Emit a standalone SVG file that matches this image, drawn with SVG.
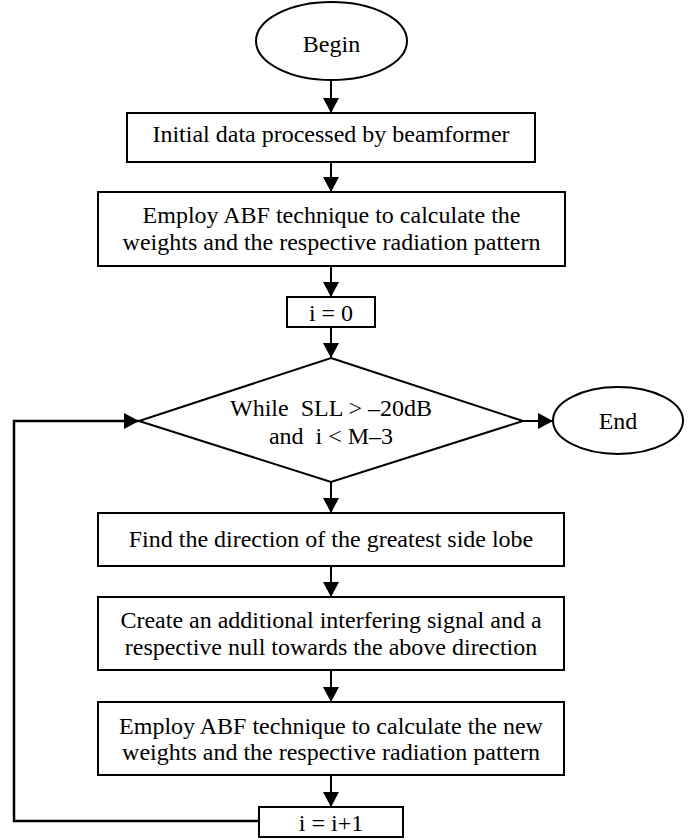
<svg xmlns="http://www.w3.org/2000/svg" width="699" height="840" viewBox="0 0 699 840">
<style>
.s{fill:#fff;stroke:#000;stroke-width:2}
.t{font-family:"Liberation Serif","Times New Roman",serif;font-size:24px;fill:#000;text-anchor:middle}
.c{fill:none;stroke:#000;stroke-width:2}
</style>
<defs>
<marker id="ah" markerUnits="userSpaceOnUse" markerWidth="15" markerHeight="16" refX="15" refY="8" orient="auto">
<path d="M0,0 L15,8 L0,16 z" fill="#000"/>
</marker>
</defs>
<rect width="699" height="840" fill="#fff"/>
<g id="connectors">
<line class="c" x1="331" y1="80" x2="331" y2="113" marker-end="url(#ah)"/>
<line class="c" x1="331" y1="162" x2="331" y2="192" marker-end="url(#ah)"/>
<line class="c" x1="331" y1="266" x2="331" y2="297" marker-end="url(#ah)"/>
<line class="c" x1="331" y1="327" x2="331" y2="358" marker-end="url(#ah)"/>
<line class="c" x1="523" y1="421" x2="553" y2="421" marker-end="url(#ah)"/>
<line class="c" x1="331" y1="482" x2="331" y2="513" marker-end="url(#ah)"/>
<line class="c" x1="331" y1="566" x2="331" y2="597" marker-end="url(#ah)"/>
<line class="c" x1="331" y1="670" x2="331" y2="702" marker-end="url(#ah)"/>
<line class="c" x1="331" y1="775" x2="331" y2="807" marker-end="url(#ah)"/>
<polyline class="c" style="stroke-width:2.5" points="259,821 14,821 14,421 139,421" marker-end="url(#ah)"/>
</g>
<g id="begin">
<ellipse class="s" cx="331.5" cy="41" rx="75.5" ry="39"/>
<text class="t" x="331.5" y="52">Begin</text>
</g>
<g id="initial">
<rect class="s" x="127" y="113" width="408" height="49"/>
<text class="t" x="331" y="142">Initial data processed by beamformer</text>
</g>
<g id="abf1">
<rect class="s" x="98" y="192" width="467" height="74"/>
<text class="t" x="331.5" y="223">Employ ABF technique to calculate the</text>
<text class="t" x="331.5" y="249.5">weights and the respective radiation pattern</text>
</g>
<g id="init_i">
<rect class="s" x="287" y="297" width="88" height="30"/>
<text class="t" x="331" y="321">i = 0</text>
</g>
<g id="decision">
<polygon class="s" points="331,358 523,421 331,482 139,421"/>
<text class="t" x="331" y="416" xml:space="preserve">While  SLL &gt; –20dB</text>
<text class="t" x="331" y="444" xml:space="preserve">and  i &lt; M–3</text>
</g>
<g id="end">
<ellipse class="s" cx="618" cy="420.5" rx="65" ry="33.5"/>
<text class="t" x="618" y="429">End</text>
</g>
<g id="find">
<rect class="s" x="98" y="513" width="466" height="53"/>
<text class="t" x="331" y="547">Find the direction of the greatest side lobe</text>
</g>
<g id="create">
<rect class="s" x="98" y="597" width="466" height="73"/>
<text class="t" x="331" y="628">Create an additional interfering signal and a</text>
<text class="t" x="331" y="655">respective null towards the above direction</text>
</g>
<g id="abf2">
<rect class="s" x="98" y="702" width="466" height="73"/>
<text class="t" x="331" y="734">Employ ABF technique to calculate the new</text>
<text class="t" x="331" y="760">weights and the respective radiation pattern</text>
</g>
<g id="inc_i">
<rect class="s" x="259" y="807" width="144" height="30"/>
<text class="t" x="331" y="831">i = i+1</text>
</g>
</svg>
